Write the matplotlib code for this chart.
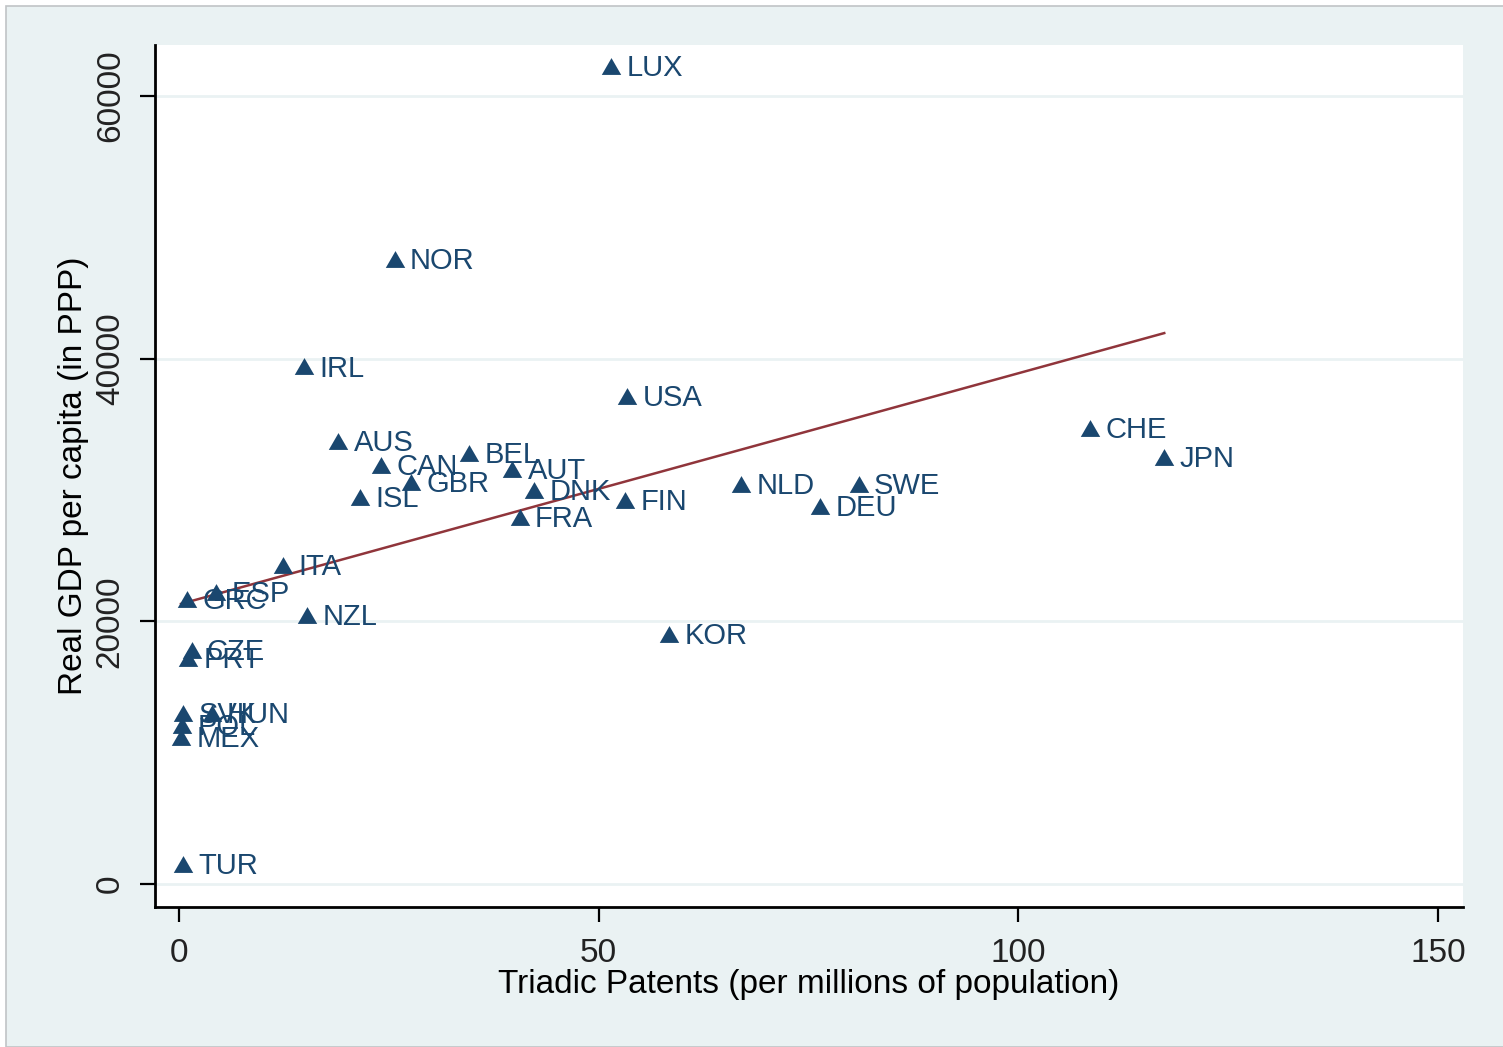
import matplotlib.pyplot as plt
from matplotlib.patches import Rectangle
import numpy as np

plt.rcParams['font.family'] = ['Liberation Sans', 'DejaVu Sans']

# OECD countries: triadic patents vs real GDP per capita
countries = ["LUX", "NOR", "IRL", "USA", "AUS", "CAN", "GBR", "BEL", "AUT", "DNK",
             "ISL", "FRA", "FIN", "NLD", "DEU", "SWE", "CHE", "JPN", "KOR", "ITA",
             "ESP", "GRC", "NZL", "CZE", "PRT", "SVK", "HUN", "POL", "MEX", "TUR"]
patents = [51.5, 25.7, 14.9, 53.4, 19.0, 24.1, 27.7, 34.6, 39.7, 42.3,
           21.6, 40.6, 53.2, 67.0, 76.4, 81.0, 108.6, 117.4, 58.4, 12.4,
           4.4, 0.95, 15.3, 1.5, 1.1, 0.5, 3.9, 0.36, 0.24, 0.5]
gdp = [62300, 47600, 39400, 37150, 33700, 31900, 30600, 32800, 31600, 30000,
       29450, 27950, 29250, 30450, 28800, 30450, 34700, 32500, 19050, 24300,
       22250, 21700, 20500, 17800, 17200, 13000, 13000, 12100, 11200, 1500]

x_ticks = [0, 50, 100, 150]
y_ticks = [0, 20000, 40000, 60000]

navy = "#1a476f"
maroon = "#90353b"
bg = "#eaf2f3"

fig = plt.figure(figsize=(15.03, 10.47), dpi=100)
fig.patch.set_facecolor("white")
# graph region (screenshot has a thin white strip at the top)
fig.patches.append(Rectangle((6 / 1503, 0), 1.0, 1 - 6 / 1047, transform=fig.transFigure,
                             facecolor=bg, edgecolor="#c0c4c6", linewidth=1.2, zorder=-5))

ax = fig.add_axes([155 / 1503, 140 / 1047, 1308 / 1503, 862 / 1047])
ax.set_facecolor("white")

tri = [(-1, -0.866), (1, -0.866), (0, 0.866)]
ax.scatter(patents, gdp, marker=tri, s=14 ** 2, color=navy, linewidths=0, zorder=3)
for c, xv, yv in zip(countries, patents, gdp):
    ax.annotate(c, (xv, yv), xytext=(11, -1.5), textcoords="offset points",
                va="center", ha="left", fontsize=21, color=navy, zorder=4)

# linear fit
b, a = np.polyfit(patents, gdp, 1)
xs = np.array([min(patents), max(patents)])
ax.plot(xs, a + b * xs, color=maroon, linewidth=1.8, zorder=2)

ax.set_xlim(-2.86, 153)
ax.set_ylim(-1750, 63875)
ax.set_xticks(x_ticks)
ax.set_yticks(y_ticks)
ax.set_yticklabels([str(t) for t in y_ticks], rotation=90, va="center")
ax.grid(axis="y", color=bg, linewidth=2)
ax.set_axisbelow(True)

for s in ["top", "right"]:
    ax.spines[s].set_visible(False)
for s in ["left", "bottom"]:
    ax.spines[s].set_linewidth(2)
ax.tick_params(axis="both", length=11, width=1.6, labelsize=24, color="black",
               labelcolor="#222222")
ax.tick_params(axis="x", pad=11)
ax.tick_params(axis="y", pad=10)

ax.set_xlabel("Triadic Patents (per millions of population)", fontsize=24, labelpad=0)
ax.set_ylabel("Real GDP per capita (in PPP)", fontsize=24, labelpad=4)

fig.savefig("out.png", dpi=100)
